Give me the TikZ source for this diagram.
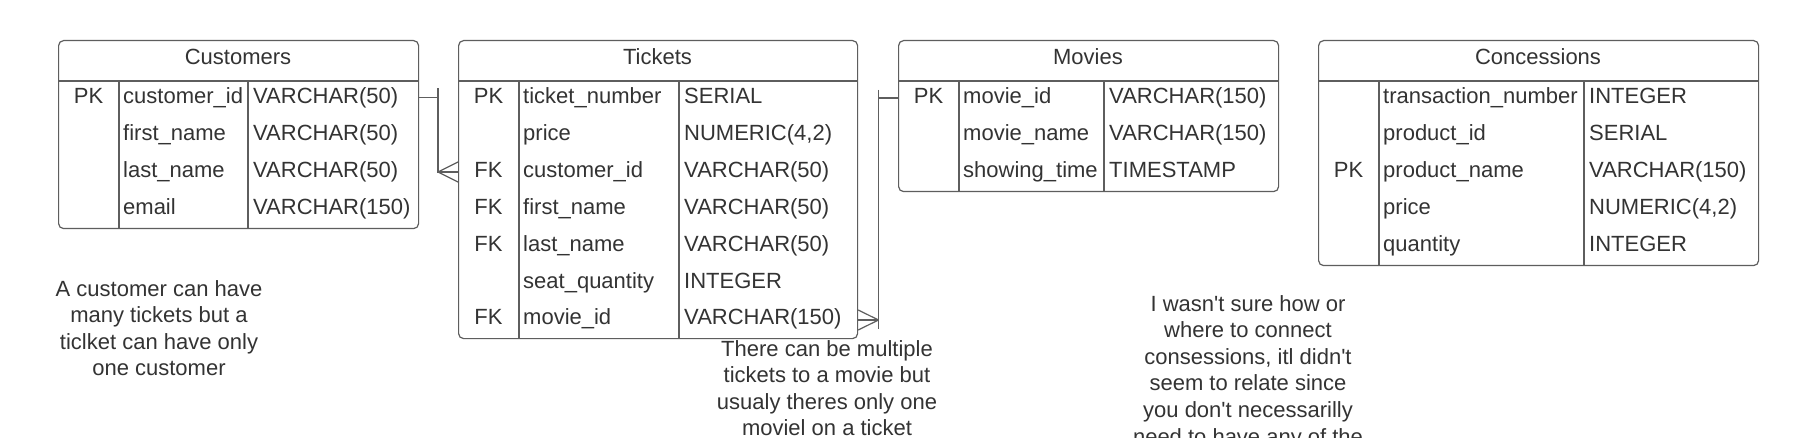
\documentclass[tikz,border=0pt]{standalone}
\usepackage{fontspec}
\setmainfont{Liberation Sans}
\definecolor{txtc}{HTML}{333333}
\definecolor{linec}{HTML}{5E5E5E}
\tikzset{
  ln/.style={draw=linec, line width=1.2pt},
  tbl/.style={draw=linec, line width=1.2pt, rounded corners=5pt, inner sep=0pt, fill=white},
  txt/.style={text=txtc, inner sep=0pt, font=\fontsize{22}{26.6}\selectfont},
  note/.style={text=txtc, inner sep=0pt, align=center, font=\fontsize{22}{26.6}\selectfont},
}
\newcommand\ertab[8]{%
  \node[tbl, anchor=north west, minimum width={(#5-#2)*1pt}, minimum height={(#6-40)*1pt}] (#1) at (#2,40) {};
  \draw[ln] (#2,81) -- (#5,81);
  \draw[ln] (#3,81) -- (#3,#6);
  \draw[ln] (#4,81) -- (#4,#6);
  \node[txt, anchor=base] (#1-title) at ({(#2+#5)/2},65) {#7};
  \foreach \k/\n/\t [count=\i] in {#8} {
    \pgfmathsetmacro\yb{104+(\i-1)*36.8}
    \node[txt, anchor=base] (#1-k\i) at ({(#2+#3)/2},\yb) {\k};
    \node[txt, anchor=base west] (#1-n\i) at (#3+4,\yb) {\n};
    \node[txt, anchor=base west] (#1-t\i) at (#4+5,\yb) {\t};
  }%
}
\begin{document}
\begin{tikzpicture}[x=1pt,y=-1pt]
\useasboundingbox (0,0) rectangle (1798,438);
\clip (0,0) rectangle (1798,438);
\fill[white] (0,0) rectangle (1798,438);

\ertab{cust}{58}{119}{248}{418}{228}{Customers}{PK/customer\_id/VARCHAR(50), {}/first\_name/VARCHAR(50), {}/last\_name/VARCHAR(50), {}/email/VARCHAR(150)}
\ertab{tick}{458}{519}{679}{857}{338}{Tickets}{PK/ticket\_number/SERIAL, {}/price/{NUMERIC(4,2)}, FK/customer\_id/VARCHAR(50), FK/first\_name/VARCHAR(50), FK/last\_name/VARCHAR(50), {}/seat\_quantity/INTEGER, FK/movie\_id/VARCHAR(150)}
\ertab{movie}{898}{959}{1104}{1278}{191}{Movies}{PK/movie\_id/VARCHAR(150), {}/movie\_name/VARCHAR(150), {}/showing\_time/TIMESTAMP}
\ertab{conc}{1318}{1379}{1584}{1758}{265}{Concessions}{{}/transaction\_number/INTEGER, {}/product\_id/SERIAL, PK/product\_name/VARCHAR(150), {}/price/{NUMERIC(4,2)}, {}/quantity/INTEGER}

% Customers -- Tickets (one to many)
\coordinate (c1a) at (438,97.5);
\coordinate (c1b) at (438,172);
\draw[ln] (cust.east |- c1a) -- (c1a) -- (c1b) -- (tick.west |- c1b);
\draw[ln] ([yshift=9pt]c1a) -- ([yshift=-10pt]c1a);
\draw[ln] (c1b) -- ([yshift=10pt]tick.west |- c1b);
\draw[ln] (c1b) -- ([yshift=-10pt]tick.west |- c1b);

% Tickets -- Movies (many to one)
\coordinate (c2a) at (878.5,98);
\coordinate (c2b) at (878.5,320);
\draw[ln] (movie.west |- c2a) -- (c2a) -- ([yshift=-9pt]c2b);
\draw[ln] ([yshift=8pt]c2a) -- (c2a);
\draw[ln] (c2b) -- (tick.east |- c2b);
\draw[ln] (c2b) -- ([yshift=10pt]tick.east |- c2b);
\draw[ln] (c2b) -- ([yshift=-10pt]tick.east |- c2b);

% Notes
\node[note, anchor=north] (note1) at (159,280) {A customer can have\\many tickets but a\\ticlket can have only\\one customer};
\node[note, anchor=north] (note2) at (827,340) {There can be multiple\\tickets to a movie but\\usualy theres only one\\moviel on a ticket};
\node[note, anchor=north] (note3) at (1248,295) {I wasn\textquotesingle t sure how or\\where to connect\\consessions, itl didn\textquotesingle t\\seem to relate since\\you don\textquotesingle t necessarilly\\need to have any of the};
\end{tikzpicture}
\end{document}
